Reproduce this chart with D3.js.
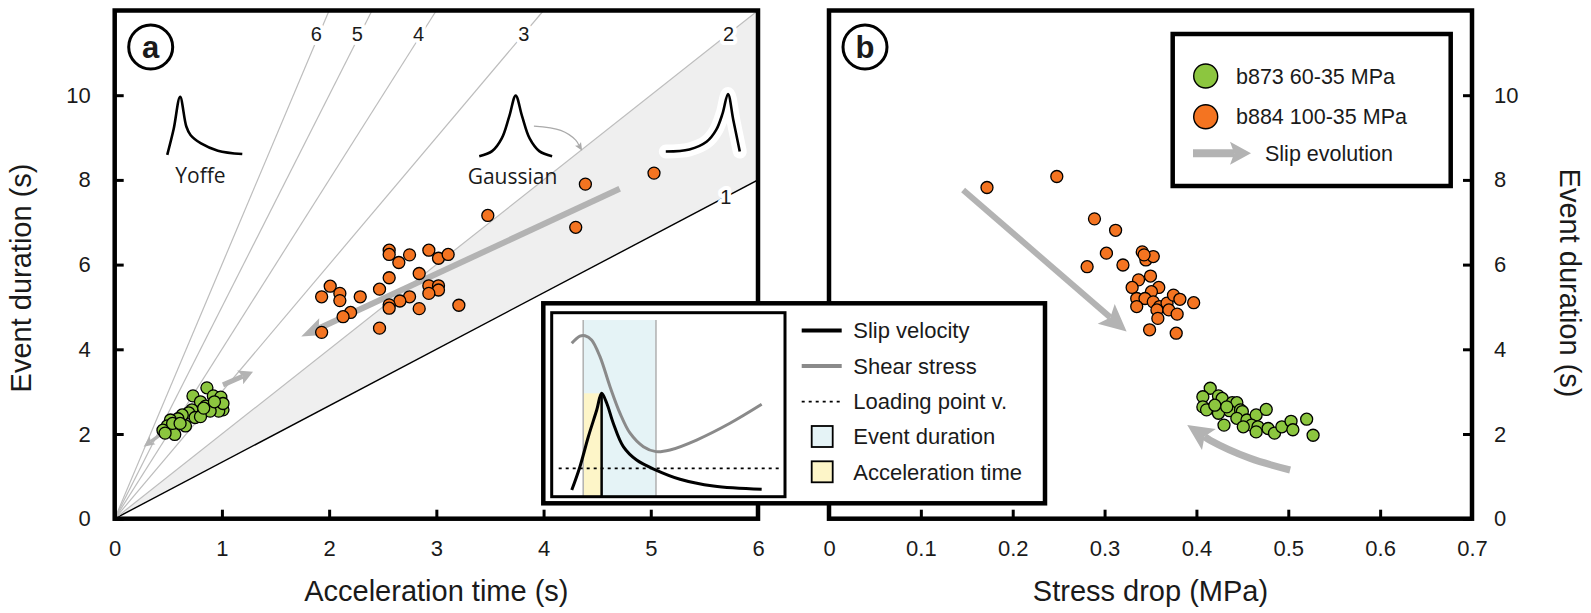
<!DOCTYPE html>
<html>
<head>
<meta charset="utf-8">
<script src="https://cdn.jsdelivr.net/npm/d3@7"></script>
<style>
  body { margin: 0; background: #fff; }
  svg text { font-family: "Liberation Sans", Arial, sans-serif; fill: #1a1a1a; }
</style>
</head>
<body>
<div id="chart"></div>
<script>
// ---- data ----
// panel a: [acceleration time (s), event duration (s)]
const b873Accel = [[0.86,3.09],[0.73,2.90],[0.92,2.90],[0.99,2.87],[0.80,2.76],[0.85,2.66],[0.92,2.64],
  [1.00,2.68],[1.01,2.57],[0.97,2.54],[0.89,2.54],[0.80,2.53],[0.72,2.57],[0.69,2.50],[0.63,2.45],
  [0.59,2.36],[0.52,2.33],[0.57,2.21],[0.49,2.19],[0.45,2.09],[0.56,1.99],[0.47,2.02],[0.66,2.19],
  [0.75,2.39],[0.80,2.41],[0.83,2.61],[1.01,2.72],[0.93,2.76],[0.54,2.25],[0.61,2.25]];
const b884Accel = [[5.03,8.16],[4.39,7.90],[3.48,7.16],[4.30,6.88],[2.56,6.34],[2.56,6.24],[2.65,6.05],
  [2.75,6.23],[2.93,6.34],[3.02,6.15],[3.11,6.24],[2.84,5.79],[2.56,5.69],[2.47,5.42],[2.93,5.50],
  [3.02,5.50],[3.02,5.40],[2.93,5.32],[2.75,5.24],[2.66,5.14],[2.56,5.05],[2.56,4.97],[2.84,4.96],
  [3.21,5.04],[2.29,5.24],[2.01,5.49],[2.10,5.32],[2.10,5.15],[1.93,5.24],[2.20,4.87],[2.13,4.77],
  [2.47,4.50],[1.93,4.40]];
// panel b: [stress drop (MPa), event duration (s)]
const b873Stress = [[0.415,3.08],[0.407,2.88],[0.424,2.90],[0.428,2.84],[0.407,2.64],[0.418,2.61],
  [0.439,2.74],[0.444,2.74],[0.436,2.55],[0.448,2.57],[0.450,2.53],[0.424,2.49],[0.430,2.21],
  [0.444,2.37],[0.455,2.33],[0.465,2.45],[0.476,2.58],[0.460,2.21],[0.467,2.17],[0.451,2.17],
  [0.478,2.13],[0.485,2.02],[0.493,2.17],[0.465,2.05],[0.411,2.57],[0.420,2.68],[0.433,2.64],
  [0.503,2.30],[0.520,2.35],[0.527,1.97],[0.505,2.10]];
const b884Stress = [[0.172,7.82],[0.248,8.08],[0.289,7.08],[0.312,6.81],[0.302,6.27],[0.281,5.95],
  [0.320,5.99],[0.341,6.30],[0.345,6.11],[0.353,6.19],[0.343,6.23],[0.350,5.73],[0.337,5.64],
  [0.330,5.46],[0.359,5.46],[0.351,5.36],[0.335,5.20],[0.344,5.20],[0.335,5.01],[0.353,5.12],
  [0.360,5.01],[0.368,5.09],[0.375,5.28],[0.382,5.18],[0.397,5.10],[0.357,4.93],[0.370,4.93],
  [0.379,4.83],[0.358,4.73],[0.349,4.46],[0.378,4.38]];

// duration / acceleration reference lines
const rayRatios = [4/3, 2, 3, 4, 5, 6];
const rayLabels = ["1", "2", "3", "4", "5", "6"];

// slip-evolution arrows (data units)
const arrowA884 = [[4.71,7.79],[1.74,4.30]];
const arrowA873up = [[1.01,3.16],[1.29,3.47]];
const arrowA873down = [[0.50,2.12],[0.27,1.70]];
const arrowB884 = [[0.146,7.76],[0.324,4.42]];
const arrowB873 = [[0.502,1.15],[0.458,1.43],[0.415,1.85],[0.390,2.21]];

// source time function sketches (panel a data units)
const iconYoffe = [[0.49,8.59],[0.55,9.2],[0.61,9.96],[0.668,9.26],[0.707,9.06],[0.805,8.86],[0.962,8.69],[1.19,8.61]];
const iconGauss = [[3.40,8.56],[3.52,8.68],[3.61,8.98],[3.68,9.5],[3.74,9.99],[3.80,9.5],[3.87,8.98],[3.96,8.68],[4.08,8.56]];
const iconReverse = [[5.14,8.67],[5.36,8.72],[5.52,8.90],[5.61,9.18],[5.67,9.57],[5.72,10.03],[5.77,9.41],[5.83,8.67]];
const gaussPointer = [[3.91,9.27],[4.16,9.17],[4.30,8.94],[4.36,8.69]];

// inset sketch: time 0-10, normalised value 0-1
const slipVel = [[0.86,0.036],[1.21,0.163],[1.57,0.326],[1.93,0.471],[2.14,0.562],[2.36,0.508],[2.64,0.399],
  [3.07,0.272],[3.64,0.199],[4.47,0.145],[5.50,0.095],[6.93,0.058],[9.00,0.040]];
const shearStress = [[0.86,0.834],[1.21,0.873],[1.43,0.875],[1.71,0.852],[2.07,0.761],[2.50,0.598],[2.93,0.453],
  [3.36,0.345],[3.93,0.272],[4.47,0.245],[5.07,0.254],[6.21,0.308],[7.64,0.399],[9.00,0.502]];
const eventWindow = [1.35, 4.47];
const accelWindow = [1.35, 2.14];
const accelTop = 0.562;
const loadingLevel = 0.154;

const insetItems = ["Slip velocity", "Shear stress", "Loading point v.", "Event duration", "Acceleration time"];
const legendItems = ["b873 60-35 MPa", "b884 100-35 MPa", "Slip evolution"];

const xTicksA = [0, 1, 2, 3, 4, 5, 6];
const xTicksB = [0, 0.1, 0.2, 0.3, 0.4, 0.5, 0.6, 0.7];
const yTicks = [0, 2, 4, 6, 8, 10];

// ---- colours ----
const GREEN = "#8cc63f", ORANGE = "#f47421", ARROW = "#b3b3b3";

// ---- svg + scales ----
const svg = d3.select("#chart").append("svg").attr("width", 1591).attr("height", 613);

const xA = d3.scaleLinear().domain([0, 6]).range([114.7, 758]);
const xB = d3.scaleLinear().domain([0, 0.7]).range([829, 1472]);
const y = d3.scaleLinear().domain([0, 12]).range([518.7, 10.5]);

svg.append("clipPath").attr("id", "clipA").append("rect")
  .attr("x", xA(0)).attr("y", y(12)).attr("width", xA(6) - xA(0)).attr("height", y(0) - y(12));

function arrow(g, pts, o) {
  const n = pts.length, tip = pts[n - 1], prev = pts[n - 2];
  const dx = tip[0] - prev[0], dy = tip[1] - prev[1], len = Math.hypot(dx, dy);
  const ux = dx / len, uy = dy / len, px = -uy, py = ux;
  const base = [tip[0] - ux * o.head, tip[1] - uy * o.head];
  const notch = [base[0] + ux * o.head * 0.2, base[1] + uy * o.head * 0.2];
  const shaft = pts.slice(0, n - 1).concat([notch]);
  g.append("path")
    .attr("d", d3.line().curve(o.curve || d3.curveLinear)(shaft))
    .attr("fill", "none").attr("stroke", o.color || ARROW).attr("stroke-width", o.w);
  const hw = o.hw / 2;
  g.append("path")
    .attr("d", `M${tip[0]},${tip[1]}L${base[0] + px * hw},${base[1] + py * hw}L${notch[0]},${notch[1]}L${base[0] - px * hw},${base[1] - py * hw}Z`)
    .attr("fill", o.color || ARROW);
}

// ================= panel a =================
const gA = svg.append("g").attr("clip-path", "url(#clipA)");
const lineA = d3.line().x(d => xA(d[0])).y(d => y(d[1]));

// shaded band between lines 1 and 2
gA.append("path")
  .attr("d", lineA([[0, 0], [6, 6 * rayRatios[0]], [6, 6 * rayRatios[1]]]) + "Z")
  .attr("fill", "#efefef");

rayRatios.forEach((r, i) => {
  const end = r * 6 <= 12 ? [6, r * 6] : [12 / r, 12];
  gA.append("path").attr("d", lineA([[0, 0], end]))
    .attr("stroke", i === 0 ? "#000" : "#bdbdbd")
    .attr("stroke-width", i === 0 ? 1.4 : 1.2).attr("fill", "none");
});

rayRatios.forEach((r, i) => {
  const ly = i === 0 ? 5.7 * r : 11.45;
  const lx = ly / r;
  gA.append("text").attr("x", xA(lx) - (i >= 3 ? 3 : 0)).attr("y", y(ly)).attr("dy", "0.36em")
    .attr("text-anchor", "middle").attr("font-size", 20)
    .attr("stroke", "#fff").attr("stroke-width", 8).attr("paint-order", "stroke")
    .attr("stroke-linejoin", "round")
    .text(rayLabels[i]);
});

// source time function sketches
const smooth = d3.line().x(d => xA(d[0])).y(d => y(d[1])).curve(d3.curveCatmullRom.alpha(0.5));
gA.append("path").attr("d", smooth(iconReverse)).attr("fill", "none")
  .attr("stroke", "#fff").attr("stroke-width", 14).attr("stroke-linejoin", "round").attr("stroke-linecap", "round");
[iconYoffe, iconGauss, iconReverse].forEach(ic => {
  gA.append("path").attr("d", smooth(ic)).attr("fill", "none")
    .attr("stroke", "#000").attr("stroke-width", 2.6).attr("stroke-linejoin", "round");
});
gA.append("text").attr("x", xA(0.80)).attr("y", y(8.11)).attr("dy", "0.36em")
  .attr("text-anchor", "middle").attr("font-size", 21).style("font-family", "'Open Sans', sans-serif")
  .text("Yoffe");
gA.append("text").attr("x", xA(3.71)).attr("y", y(8.09)).attr("dy", "0.36em")
  .attr("text-anchor", "middle").attr("font-size", 21).style("font-family", "'Open Sans', sans-serif")
  .text("Gaussian");
arrow(gA, gaussPointer.map(d => [xA(d[0]), y(d[1])]), { w: 1.3, head: 8, hw: 7, curve: d3.curveCatmullRom, color: "#aaa" });

// slip evolution arrows
arrow(gA, arrowA884.map(d => [xA(d[0]), y(d[1])]), { w: 6, head: 24, hw: 18 });
arrow(gA, arrowA873up.map(d => [xA(d[0]), y(d[1])]), { w: 5, head: 14, hw: 15 });
arrow(gA, arrowA873down.map(d => [xA(d[0]), y(d[1])]), { w: 3.5, head: 11, hw: 10 });

// points
function dots(g, data, xs, fill) {
  g.selectAll(null).data(data).enter().append("circle")
    .attr("cx", d => xs(d[0])).attr("cy", d => y(d[1])).attr("r", 6)
    .attr("fill", fill).attr("stroke", "#000").attr("stroke-width", 1.3);
}
dots(gA, b873Accel, xA, GREEN);
dots(gA, b884Accel, xA, ORANGE);

// ================= panel b =================
const gB = svg.append("g");
arrow(gB, arrowB884.map(d => [xB(d[0]), y(d[1])]), { w: 6, head: 27, hw: 26 });
arrow(gB, arrowB873.map(d => [xB(d[0]), y(d[1])]), { w: 7, head: 26, hw: 25, curve: d3.curveCatmullRom });
dots(gB, b873Stress, xB, GREEN);
dots(gB, b884Stress, xB, ORANGE);

// ================= axes & frames =================
function styleAxis(g) {
  g.select(".domain").remove();
  g.selectAll(".tick line").attr("stroke", "#000").attr("stroke-width", 3);
  g.selectAll(".tick text").attr("font-size", 22).attr("fill", "#1a1a1a")
    .style("font-family", "'Liberation Sans', Arial, sans-serif");
}
const fmtB = d => d === 0 ? "0" : d3.format(".1f")(d);

svg.append("g").attr("transform", `translate(0,${y(0)})`)
  .call(d3.axisBottom(xA).tickValues(xTicksA).tickFormat(d3.format("d")).tickSizeInner(-9).tickSizeOuter(0).tickPadding(22))
  .call(styleAxis);
svg.append("g").attr("transform", `translate(${xA(0)},0)`)
  .call(d3.axisLeft(y).tickValues(yTicks).tickSizeInner(-9).tickSizeOuter(0).tickPadding(24))
  .call(styleAxis);
svg.append("g").attr("transform", `translate(0,${y(0)})`)
  .call(d3.axisBottom(xB).tickValues(xTicksB).tickFormat(fmtB).tickSizeInner(-9).tickSizeOuter(0).tickPadding(22))
  .call(styleAxis);
svg.append("g").attr("transform", `translate(${xB(0.7)},0)`)
  .call(d3.axisRight(y).tickValues(yTicks).tickSizeInner(-9).tickSizeOuter(0).tickPadding(22))
  .call(styleAxis);

[[xA, 0, 6], [xB, 0, 0.7]].forEach(([xs, a, b]) => {
  svg.append("rect").attr("x", xs(a)).attr("y", y(12)).attr("width", xs(b) - xs(a)).attr("height", y(0) - y(12))
    .attr("fill", "none").attr("stroke", "#000").attr("stroke-width", 4.5);
});

// axis titles
svg.append("text").attr("x", (xA(0) + xA(6)) / 2).attr("y", 601).attr("text-anchor", "middle")
  .attr("font-size", 29).text("Acceleration time (s)");
svg.append("text").attr("x", (xB(0) + xB(0.7)) / 2).attr("y", 601).attr("text-anchor", "middle")
  .attr("font-size", 29).text("Stress drop (MPa)");
svg.append("text").attr("transform", "translate(31,278) rotate(-90)").attr("text-anchor", "middle")
  .attr("font-size", 29).text("Event duration (s)");
svg.append("text").attr("transform", "translate(1560,283) rotate(90)").attr("text-anchor", "middle")
  .attr("font-size", 29).text("Event duration (s)");

// panel labels
[["a", xA(0) + 36], ["b", xB(0) + 36]].forEach(([t, cx]) => {
  svg.append("circle").attr("cx", cx).attr("cy", 47).attr("r", 22)
    .attr("fill", "#fff").attr("stroke", "#000").attr("stroke-width", 3);
  svg.append("text").attr("x", cx).attr("y", 47).attr("dy", "0.35em").attr("text-anchor", "middle")
    .attr("font-size", 31).attr("font-weight", "bold").text(t);
});

// ================= legend (panel b) =================
const lg = svg.append("g");
lg.append("rect").attr("x", 1172.7).attr("y", 34).attr("width", 278).attr("height", 152)
  .attr("fill", "#fff").attr("stroke", "#000").attr("stroke-width", 4.5);
[GREEN, ORANGE].forEach((c, i) => {
  lg.append("circle").attr("cx", 1205.7).attr("cy", 76 + i * 40.7).attr("r", 12)
    .attr("fill", c).attr("stroke", "#000").attr("stroke-width", 1.4);
  lg.append("text").attr("x", 1236).attr("y", 76 + i * 40.7).attr("dy", "0.35em")
    .attr("font-size", 21.5).text(legendItems[i]);
});
arrow(lg, [[1193, 153.3], [1251, 153.3]], { w: 8, head: 21, hw: 23 });
lg.append("text").attr("x", 1265).attr("y", 153.3).attr("dy", "0.35em")
  .attr("font-size", 21.5).text(legendItems[2]);

// ================= inset =================
const ins = svg.append("g");
ins.append("rect").attr("x", 543.3).attr("y", 303.3).attr("width", 1045 - 543.3).attr("height", 503.3 - 303.3)
  .attr("fill", "#fff").attr("stroke", "#000").attr("stroke-width", 4.5);

const xi = d3.scaleLinear().domain([0, 10]).range([551.7, 785]);
const yi = d3.scaleLinear().domain([0, 1]).range([496.7, 312.7]);
const lineI = d3.line().x(d => xi(d[0])).y(d => yi(d[1])).curve(d3.curveCatmullRom.alpha(0.5));

ins.append("rect").attr("x", xi(eventWindow[0])).attr("y", yi(0.96))
  .attr("width", xi(eventWindow[1]) - xi(eventWindow[0])).attr("height", yi(0) - yi(0.96))
  .attr("fill", "#e5f3f6");
ins.append("rect").attr("x", xi(accelWindow[0])).attr("y", yi(accelTop))
  .attr("width", xi(accelWindow[1]) - xi(accelWindow[0])).attr("height", yi(0) - yi(accelTop))
  .attr("fill", "#fdf5c8");
eventWindow.forEach(t => {
  ins.append("line").attr("x1", xi(t)).attr("x2", xi(t)).attr("y1", yi(0.96)).attr("y2", yi(0))
    .attr("stroke", "#b0b0b0").attr("stroke-width", 1.5);
});
ins.append("line").attr("x1", xi(accelWindow[1])).attr("x2", xi(accelWindow[1]))
  .attr("y1", yi(accelTop)).attr("y2", yi(0)).attr("stroke", "#000").attr("stroke-width", 2.5);
ins.append("line").attr("x1", xi(0.3)).attr("x2", xi(9.9)).attr("y1", yi(loadingLevel)).attr("y2", yi(loadingLevel))
  .attr("stroke", "#000").attr("stroke-width", 1.8).attr("stroke-dasharray", "3,4");
ins.append("path").attr("d", lineI(shearStress)).attr("fill", "none").attr("stroke", "#8a8a8a").attr("stroke-width", 3);
ins.append("path").attr("d", lineI(slipVel)).attr("fill", "none").attr("stroke", "#000").attr("stroke-width", 3);
ins.append("rect").attr("x", xi(0)).attr("y", yi(1)).attr("width", xi(10) - xi(0)).attr("height", yi(0) - yi(1))
  .attr("fill", "none").attr("stroke", "#000").attr("stroke-width", 3);

// inset legend
const rowY = [330.5, 366, 401.7, 436.5, 471.8];
const lx0 = 801.7, lx1 = 841.7;
ins.append("line").attr("x1", lx0).attr("x2", lx1).attr("y1", rowY[0]).attr("y2", rowY[0])
  .attr("stroke", "#000").attr("stroke-width", 4);
ins.append("line").attr("x1", lx0).attr("x2", lx1).attr("y1", rowY[1]).attr("y2", rowY[1])
  .attr("stroke", "#8a8a8a").attr("stroke-width", 4);
ins.append("line").attr("x1", lx0).attr("x2", lx1).attr("y1", rowY[2]).attr("y2", rowY[2])
  .attr("stroke", "#000").attr("stroke-width", 1.8).attr("stroke-dasharray", "3,4");
[["#e5f3f6", 3], ["#fdf5c8", 4]].forEach(([c, i]) => {
  ins.append("rect").attr("x", 811.7).attr("y", rowY[i] - 10.5).attr("width", 21).attr("height", 21)
    .attr("fill", c).attr("stroke", "#000").attr("stroke-width", 1.8);
});
insetItems.forEach((t, i) => {
  ins.append("text").attr("x", 853.3).attr("y", rowY[i]).attr("dy", "0.35em")
    .attr("font-size", 22).text(t);
});
</script>
</body>
</html>
